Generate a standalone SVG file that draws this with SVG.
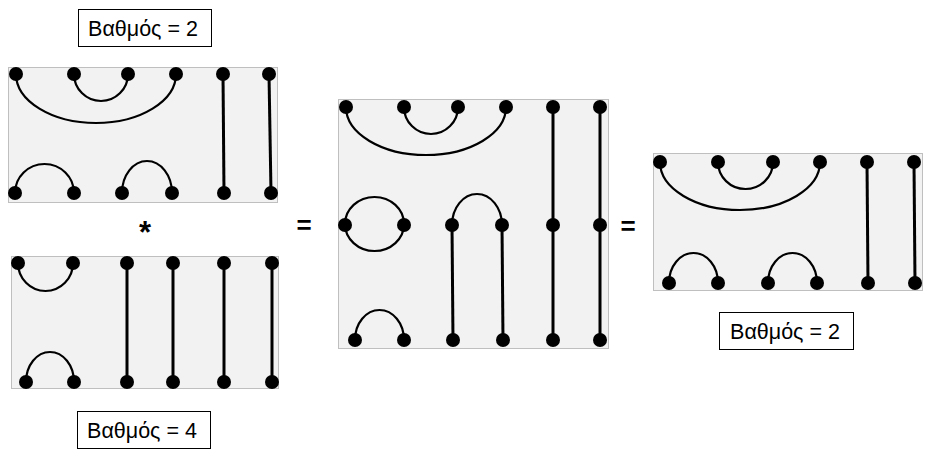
<svg xmlns="http://www.w3.org/2000/svg" width="931" height="456" viewBox="0 0 931 456">
<style>
.panel{fill:#f2f2f2;stroke:#bfbfbf;stroke-width:1}
.arc{fill:none;stroke:#000;stroke-width:2.2}
.line{fill:none;stroke:#000;stroke-width:3}
.dot{fill:#000}
.lbl{fill:#fff;stroke:#000;stroke-width:1}
.t{font-family:"Liberation Sans",Arial,sans-serif;font-size:21.5px;fill:#000;text-anchor:middle}
.op{font-family:"Liberation Sans",Arial,sans-serif;font-weight:bold;fill:#000;text-anchor:middle}
</style>
<rect width="931" height="456" fill="#fff"/>

<g id="label-top">
<rect class="lbl" x="78.5" y="9.5" width="133" height="37"/>
<text class="t" x="143" y="36">Βαθμός = 2</text>
</g>

<g id="diagram-a">
<rect class="panel" x="8.5" y="67.5" width="269" height="135"/>
<g id="a-connectors">
<path class="arc" d="M16 74 A80 49 0 0 0 176 74"/>
<path class="arc" d="M74 74 A27 27 0 0 0 128 74"/>
<path class="arc" d="M15 193 A29.5 29 0 0 1 74 193"/>
<path class="arc" d="M122 193 A25 32 0 0 1 172 193"/>
<line class="line" x1="223" y1="74" x2="224" y2="193"/>
<line class="line" x1="269" y1="74" x2="271" y2="193"/>
</g>
<g class="dot">
<circle cx="16" cy="74" r="7"/><circle cx="74" cy="74" r="7"/><circle cx="128" cy="74" r="7"/><circle cx="176" cy="74" r="7"/><circle cx="223" cy="74" r="7"/><circle cx="269" cy="74" r="7"/>
<circle cx="15" cy="193" r="7"/><circle cx="74" cy="193" r="7"/><circle cx="122" cy="193" r="7"/><circle cx="172" cy="193" r="7"/><circle cx="224" cy="193" r="7"/><circle cx="271" cy="193" r="7"/>
</g>
</g>

<g id="op-star">
<text class="op" x="145" y="243" font-size="31">*</text>
</g>

<g id="diagram-b">
<rect class="panel" x="11.5" y="256.5" width="267" height="132"/>
<g id="b-connectors">
<path class="arc" d="M18 263 A27.5 28 0 0 0 73 263"/>
<path class="arc" d="M26 382 A24 30 0 0 1 74 382"/>
<line class="line" x1="127" y1="263" x2="127" y2="382"/>
<line class="line" x1="173" y1="263" x2="173" y2="382"/>
<line class="line" x1="224" y1="263" x2="224" y2="382"/>
<line class="line" x1="272" y1="263" x2="272" y2="382"/>
</g>
<g class="dot">
<circle cx="18" cy="263" r="7"/><circle cx="73" cy="263" r="7"/><circle cx="127" cy="263" r="7"/><circle cx="173" cy="263" r="7"/><circle cx="224" cy="263" r="7"/><circle cx="272" cy="263" r="7"/>
<circle cx="26" cy="382" r="7"/><circle cx="74" cy="382" r="7"/><circle cx="127" cy="382" r="7"/><circle cx="173" cy="382" r="7"/><circle cx="224" cy="382" r="7"/><circle cx="272" cy="382" r="7"/>
</g>
</g>

<g id="label-bottom">
<rect class="lbl" x="77.5" y="411.5" width="133" height="37"/>
<text class="t" x="142" y="438">Βαθμός = 4</text>
</g>

<g id="op-eq1">
<text class="op" x="304" y="234" font-size="26">=</text>
</g>

<g id="diagram-c">
<rect class="panel" x="338.5" y="99.5" width="270" height="249"/>
<g id="c-connectors">
<path class="arc" d="M346 107 A80 48 0 0 0 506 107"/>
<path class="arc" d="M404 107 A27 27 0 0 0 458 107"/>
<ellipse class="arc" cx="374.5" cy="224" rx="29.5" ry="27"/>
<path class="arc" d="M452 225 A25 31 0 0 1 502 225"/>
<path class="arc" d="M355 340 A24.5 30 0 0 1 404 340"/>
<line class="line" x1="452" y1="225" x2="453" y2="340"/>
<line class="line" x1="502" y1="225" x2="503" y2="340"/>
<line class="line" x1="553" y1="107" x2="553" y2="340"/>
<line class="line" x1="600" y1="107" x2="600" y2="340"/>
</g>
<g class="dot">
<circle cx="346" cy="107" r="7"/><circle cx="404" cy="107" r="7"/><circle cx="458" cy="107" r="7"/><circle cx="506" cy="107" r="7"/><circle cx="553" cy="107" r="7"/><circle cx="600" cy="107" r="7"/>
<circle cx="345" cy="225" r="7"/><circle cx="404" cy="225" r="7"/><circle cx="452" cy="225" r="7"/><circle cx="502" cy="225" r="7"/><circle cx="553" cy="225" r="7"/><circle cx="600" cy="225" r="7"/>
<circle cx="355" cy="340" r="7"/><circle cx="404" cy="340" r="7"/><circle cx="453" cy="340" r="7"/><circle cx="503" cy="340" r="7"/><circle cx="553" cy="340" r="7"/><circle cx="600" cy="340" r="7"/>
</g>
</g>

<g id="op-eq2">
<text class="op" x="628" y="235" font-size="26">=</text>
</g>

<g id="diagram-d">
<rect class="panel" x="653.5" y="153.5" width="269" height="137"/>
<g id="d-connectors">
<path class="arc" d="M660 162 A80 48 0 0 0 820 162"/>
<path class="arc" d="M718 162 A27.5 27 0 0 0 773 162"/>
<path class="arc" d="M669 283 A24.5 30 0 0 1 718 283"/>
<path class="arc" d="M768 283 A24.5 30 0 0 1 817 283"/>
<line class="line" x1="867" y1="162" x2="868" y2="283"/>
<line class="line" x1="914" y1="162" x2="915" y2="283"/>
</g>
<g class="dot">
<circle cx="660" cy="162" r="7"/><circle cx="718" cy="162" r="7"/><circle cx="773" cy="162" r="7"/><circle cx="820" cy="162" r="7"/><circle cx="867" cy="162" r="7"/><circle cx="914" cy="162" r="7"/>
<circle cx="669" cy="283" r="7"/><circle cx="718" cy="283" r="7"/><circle cx="768" cy="283" r="7"/><circle cx="817" cy="283" r="7"/><circle cx="868" cy="283" r="7"/><circle cx="915" cy="283" r="7"/>
</g>
</g>

<g id="label-right">
<rect class="lbl" x="719.5" y="312.5" width="134" height="37"/>
<text class="t" x="785" y="339">Βαθμός = 2</text>
</g>
</svg>
